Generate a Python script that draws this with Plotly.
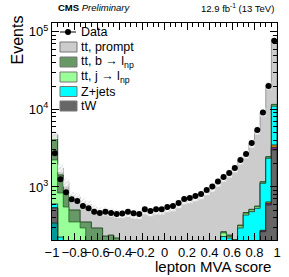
import numpy as np
import plotly.graph_objects as go

# ---------------- data ----------------
bin_edges = np.linspace(-1.0, 1.0, 41)

data_counts = [2722, 1257, 855, 694, 660, 569, 531, 480, 462, 480,
               462, 449, 455, 480, 458, 449, 515, 490, 515, 515,
               552, 569, 622, 700, 721, 765, 812, 915, 1015, 1178,
               1346, 1516, 1759, 2230, 2665, 3696, 5436, 9150, 20100, 76500]

teal_other = [343, 80, 30] + [0] * 37
tw = [193, 80, 50, 40, 40, 35, 35, 35, 30, 30,
      30, 30, 30, 30, 30, 30, 30, 30, 30, 30,
      30, 30, 30, 30, 30, 35, 35, 40, 40, 45,
      50, 60, 70, 80, 90, 110, 150, 265, 586, 3000]
purple_other = [0] * 37 + [6, 30, 250]
orange_other = [0] * 37 + [5, 25, 230]
zjets = [68, 66, 40] + [40] * 27 + [180, 160, 120, 216, 345, 370, 381, 840, 1704, 7520]
tt_j = [1625, 611, 432, 274, 274, 221, 105, 60, 40] + [20] * 21 + \
       [25, 10, 10, 18, 23, 25, 26, 34, 75, 400]
tt_b = [2461, 591, 285, 151, 151, 58, 174, 161, 186, 143,
        150, 130, 90] + [40] * 17 + [10, 10, 10, 8, 10, 10, 10, 20, 40, 200]
tt_prompt = [30, 330, 313, 272, 234, 283, 241, 232, 189, 257,
             230, 235, 270, 336, 314, 306, 370, 345, 370, 370,
             405, 422, 473, 549, 569, 607, 653, 748, 845, 998,
             1065, 1260, 1530, 1898, 2182, 3135, 4833, 8030, 18040, 69400]

x_tickvals = [-1, -0.8, -0.6, -0.4, -0.2, 0, 0.2, 0.4, 0.6, 0.8, 1]
x_ticktext = ["\u22121", "\u22120.8", "\u22120.6", "\u22120.4", "\u22120.2", "0",
              "0.2", "0.4", "0.6", "0.8", "1"]
y_tickvals = [1e3, 1e4, 1e5]
y_ticktext = ["10<sup>3</sup>", "10<sup>4</sup>", "10<sup>5</sup>"]

legend_labels = ["Data", "tt, prompt", "tt, b \u2192 l<sub>np</sub>",
                 "tt, j \u2192 l<sub>np</sub>", "Z+jets", "tW"]

# ---------------- style ----------------
FONT = "Liberation Sans, Arial, Helvetica, sans-serif"
c_prompt = "#cccccc"
c_b = "#669966"
c_j = "#99ff99"
c_z = "#00ffff"
c_tw = "#666666"
c_teal = "#009999"
c_purple = "#7a2a9a"
c_orange = "#dd9900"

layers = [  # bottom to top
    (teal_other, c_teal, "#222222"),
    (tw, c_tw, "#222222"),
    (purple_other, c_purple, "#222222"),
    (orange_other, c_orange, "#222222"),
    (zjets, c_z, "#222222"),
    (tt_j, c_j, "#226622"),
    (tt_b, c_b, "#113311"),
    (tt_prompt, c_prompt, "#888888"),
]

arrs = [np.array(l[0], dtype=float) for l in layers]
cums = np.cumsum(np.vstack(arrs), axis=0)
total = cums[-1]

xs_step = np.repeat(bin_edges, 2)[1:-1]
base = 1.0

fig = go.Figure()

for k in range(len(layers) - 1, -1, -1):
    ys = np.repeat(cums[k], 2)
    xp = np.concatenate([xs_step, [1.0, -1.0]])
    yp = np.concatenate([ys, [base, base]])
    fig.add_trace(go.Scatter(x=xp, y=yp, mode="lines", fill="toself",
                             fillcolor=layers[k][1],
                             line=dict(color=layers[k][2], width=0.8),
                             hoverinfo="skip", showlegend=False))

# uncertainty band (hatched)
up = np.repeat(total * 1.12, 2)
lo = np.repeat(total * 0.88, 2)
fig.add_trace(go.Scatter(x=np.concatenate([xs_step, xs_step[::-1]]),
                         y=np.concatenate([up, lo[::-1]]),
                         mode="lines", fill="toself",
                         fillcolor="rgba(255,255,255,0.0)",
                         fillpattern=dict(shape="/", fgcolor="#bbbbbb",
                                          bgcolor="rgba(255,255,255,0.85)",
                                          size=3, solidity=0.35),
                         line=dict(width=0), hoverinfo="skip", showlegend=False))

centers = 0.5 * (bin_edges[1:] + bin_edges[:-1])
dc = np.array(data_counts, dtype=float)
fig.add_trace(go.Scatter(x=centers, y=dc, mode="markers",
                         marker=dict(color="black", size=6),
                         error_y=dict(type="data", array=np.sqrt(dc), color="black",
                                      thickness=1, width=0),
                         showlegend=False))

# ---------------- layout ----------------
L, R, T, B = 52, 12, 23, 37
W, H = 289, 277
pw, ph = W - L - R, H - T - B


def px2paper(px, py):
    return (px - L) / pw, (H - B - py) / ph


minor_y = [m * 10 ** e for e in (2, 3, 4, 5) for m in range(2, 10) if 207 < m * 10 ** e < 130000]

fig.update_layout(
    width=W, height=H,
    margin=dict(l=L, r=R, t=T, b=B, pad=0),
    paper_bgcolor="white", plot_bgcolor="white",
    font=dict(family=FONT, size=13, color="black"),
    showlegend=False,
    xaxis=dict(range=[-1, 1], tickvals=x_tickvals, ticktext=x_ticktext,
               tickangle=0, automargin=False,
               ticks="inside", ticklen=7, tickwidth=1, tickcolor="black",
               mirror="allticks", showline=True, linecolor="black", linewidth=1,
               showgrid=False, zeroline=False,
               tickfont=dict(size=13, family=FONT),
               minor=dict(dtick=0.05, tick0=-1, ticks="inside", ticklen=4,
                          tickcolor="black", showgrid=False)),
    yaxis=dict(type="log", range=[np.log10(207), np.log10(130000)],
               tickvals=y_tickvals, ticktext=y_ticktext, automargin=False,
               ticks="inside", ticklen=7, tickwidth=1, tickcolor="black",
               mirror="allticks", showline=True, linecolor="black", linewidth=1,
               showgrid=False, zeroline=False,
               tickfont=dict(size=13, family=FONT),
               minor=dict(tickvals=minor_y, ticks="inside", ticklen=4,
                          tickcolor="black", showgrid=False)),
)

annotations = []
shapes = []

# titles
annotations.append(dict(xref="paper", yref="paper", x=px2paper(273, 0)[0], y=px2paper(0, 266)[1],
                        text="lepton MVA score", showarrow=False, xanchor="right",
                        yanchor="middle", font=dict(size=15, family=FONT)))
annotations.append(dict(xref="paper", yref="paper", x=px2paper(17, 0)[0], y=px2paper(0, 14)[1],
                        text="Events", showarrow=False, textangle=-90, xanchor="center",
                        yanchor="top", font=dict(size=16, family=FONT)))
annotations.append(dict(xref="paper", yref="paper", x=px2paper(56, 0)[0], y=px2paper(0, 8)[1],
                        text="<b>CMS</b> <i>Preliminary</i>", showarrow=False,
                        xanchor="left", yanchor="middle", font=dict(size=9.5, family=FONT)))
annotations.append(dict(xref="paper", yref="paper", x=px2paper(276, 0)[0], y=px2paper(0, 8)[1],
                        text="12.9 fb<sup>-1</sup> (13 TeV)", showarrow=False,
                        xanchor="right", yanchor="middle", font=dict(size=9.5, family=FONT)))

# manual legend
leg_colors = [None, c_prompt, c_b, c_j, c_z, c_tw]
row_y = [32, 47, 62, 77, 91.5, 106]
for lab, col, yy in zip(legend_labels, leg_colors, row_y):
    if col is None:
        x0, y0 = px2paper(60, yy)
        x1, _ = px2paper(76, yy)
        shapes.append(dict(type="line", xref="paper", yref="paper", x0=x0, x1=x1, y0=y0, y1=y0,
                           line=dict(color="black", width=1)))
        xc, yc = px2paper(68, yy)
        shapes.append(dict(type="circle", xref="paper", yref="paper",
                           x0=xc - 3 / pw, x1=xc + 3 / pw, y0=yc - 3 / ph, y1=yc + 3 / ph,
                           fillcolor="black", line=dict(color="black", width=0)))
    else:
        x0, y0 = px2paper(60, yy + 5)
        x1, y1 = px2paper(77, yy - 5)
        shapes.append(dict(type="rect", xref="paper", yref="paper", x0=x0, x1=x1, y0=y0, y1=y1,
                           fillcolor=col, line=dict(color="#777777", width=1)))
    tx, ty = px2paper(79, yy)
    annotations.append(dict(xref="paper", yref="paper", x=tx, y=ty, text=lab, showarrow=False,
                            xanchor="left", yanchor="middle", font=dict(size=12.5, family=FONT)))

fig.update_layout(annotations=annotations, shapes=shapes)
fig.write_html("out.html", config={"displayModeBar": False},
               post_script="document.body.style.margin='0';document.body.style.overflow='hidden';")
